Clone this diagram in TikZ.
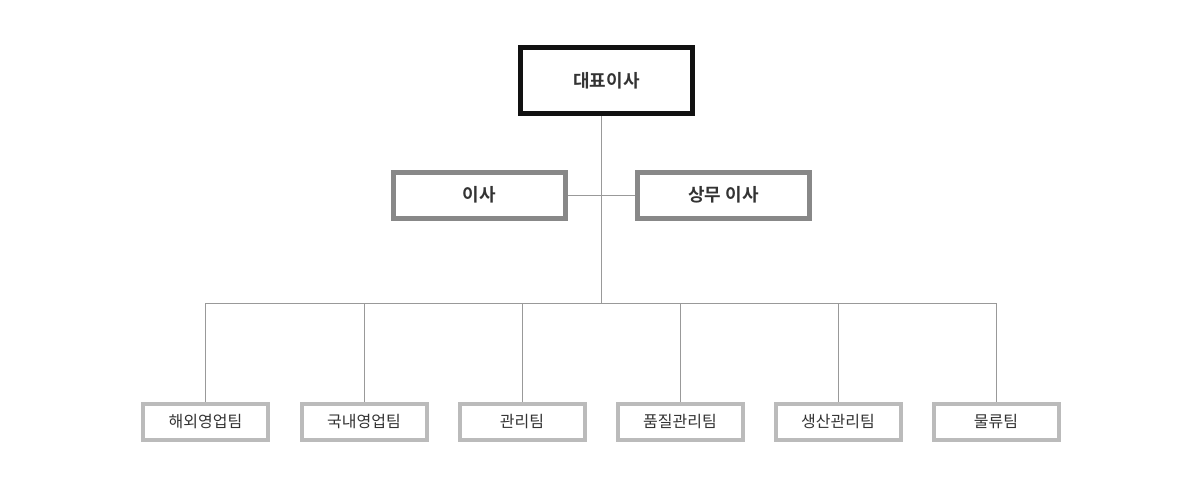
\documentclass[tikz,border=0pt]{standalone}
\usepackage{fontspec}
\setmainfont{Noto Sans CJK KR}
\newfontfamily\krbold{Noto Sans CJK KR Bold}
\definecolor{lvlone}{HTML}{111111}
\definecolor{lvltwo}{HTML}{888888}
\definecolor{lvlthree}{HTML}{BBBBBB}
\definecolor{conn}{HTML}{999999}
\definecolor{txt}{HTML}{333333}
\tikzset{
  ceo/.style={draw=lvlone,line width=5pt,minimum width=172pt,minimum height=66pt,inner sep=0pt,text=txt,font=\krbold\fontsize{18pt}{20pt}\selectfont},
  dir/.style={draw=lvltwo,line width=5pt,minimum width=172pt,minimum height=46pt,inner sep=0pt,text=txt,font=\krbold\fontsize{18pt}{20pt}\selectfont},
  team/.style={draw=lvlthree,line width=4pt,minimum width=125pt,minimum height=36pt,inner sep=0pt,text=txt,font=\fontsize{16pt}{18pt}\selectfont},
  link/.style={draw=conn,line width=0.8pt}
}
\begin{document}
\begin{tikzpicture}[x=1pt,y=-1pt]
\useasboundingbox (0,0) rectangle (1200,493);
\node[ceo] (ceo) at (606.5,80.5) {대표이사};
\node[dir] (d1) at (479.5,195) {이사};
\node[dir] (d2) at (723.5,195) {상무 이사};
\coordinate (top) at (601,116);
\coordinate (mid) at (601,195);
\coordinate (bus) at (601,303);
\draw[link] (ceo.south -| top) -- (bus);
\draw[link] (d1.east) -- (d2.west);
\foreach \n/\x/\t in {t1/205.5/해외영업팀,t2/364/국내영업팀,t3/522/관리팀,t4/680/품질관리팀,t5/838/생산관리팀,t6/996/물류팀}{
  \node[team] (\n) at (\x,422) {\t};
  \coordinate (\n b) at (\x,303);
  \draw[link] (\n b) -- (\n.north);
}
\draw[link] (t1b) -- (t6b);
\end{tikzpicture}
\end{document}
